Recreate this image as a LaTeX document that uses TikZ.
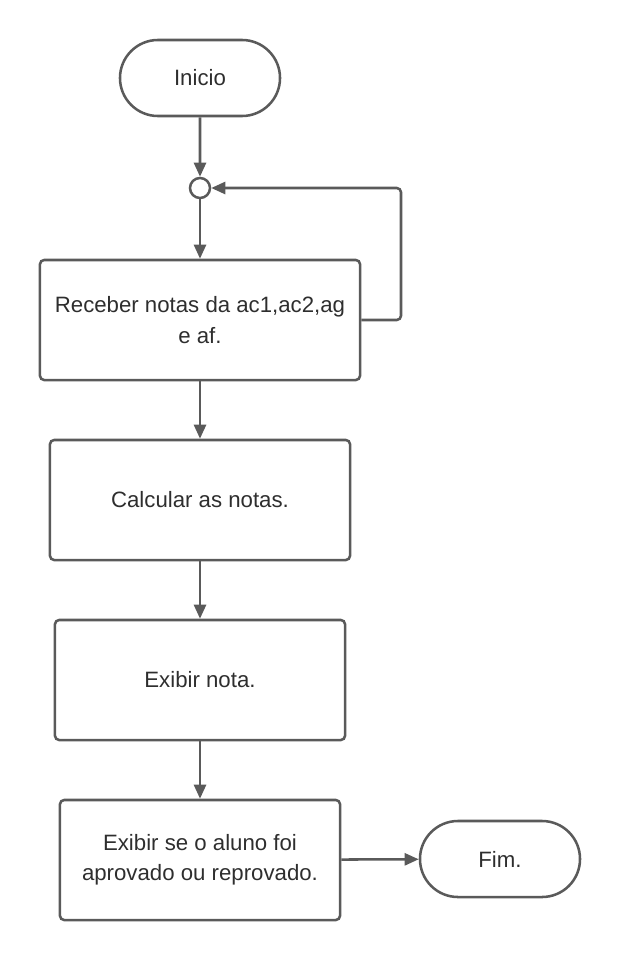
\documentclass[tikz,border=0pt]{standalone}
\usepackage{fontspec}
\setmainfont{Liberation Sans}
\usetikzlibrary{arrows.meta,shapes.misc}

\definecolor{linegray}{HTML}{5A5A5A}
\definecolor{textgray}{HTML}{2E2E2E}

\tikzset{
    terminal/.style={rounded rectangle, draw=linegray, line width=1.8pt,
        minimum width=4cm, minimum height=1.9cm, inner sep=0pt,
        text=textgray, font=\fontsize{15.8}{21.5}\selectfont},
    process/.style={rectangle, rounded corners=3pt, draw=linegray, line width=1.8pt,
        minimum height=3cm, inner sep=0pt, align=center,
        text=textgray, font=\fontsize{15.8}{21.5}\selectfont},
    junction/.style={circle, draw=linegray, line width=1.8pt, minimum size=0.5cm, inner sep=0pt},
    flow/.style={draw=linegray, line width=1.8pt, -{Triangle[length=0.35cm,width=0.3cm]}}
}

\begin{document}
\begin{tikzpicture}[x=0.025cm, y=-0.025cm]
        % Page frame
        \useasboundingbox (0,0) rectangle (620,960);

        % Start and end
        \node[terminal] (inicio) at (200,78) {Inicio};
        \node[terminal] (fim) at (500,859) {Fim.};

        % Loop junction
        \node[junction] (junc) at (200,188) {};
        \coordinate (loopc) at (401,188);

        % Process boxes
        \node[process, minimum width=8cm] (receber) at (200,320) {Receber notas da ac1,ac2,ag\\e af.};
        \node[process, minimum width=7.5cm] (calcular) at (200,500) {Calcular as notas.};
        \node[process, minimum width=7.25cm] (exibir) at (200,680) {Exibir nota.};
        \node[process, minimum width=7cm] (resultado) at (200,860) {Exibir se o aluno foi\\aprovado ou reprovado.};

        % Connectors
        \draw[flow] (inicio) -- (junc);
        \draw[flow] (junc) -- (receber);
        \draw[flow, rounded corners=3pt] (receber.east) -| (loopc) -- (junc.east);
        \draw[flow] (receber) -- (calcular);
        \draw[flow] (calcular) -- (exibir);
        \draw[flow] (exibir) -- (resultado);
        \draw[flow] (resultado) -- (fim);
    \end{tikzpicture}
\end{document}
